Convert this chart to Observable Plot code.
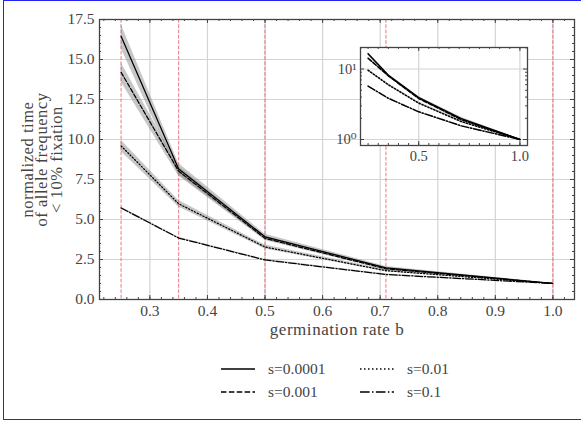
<!DOCTYPE html>
<html><head><meta charset="utf-8">
<script src="https://cdn.jsdelivr.net/npm/d3@7"></script>
<script src="https://cdn.jsdelivr.net/npm/@observablehq/plot@0.6"></script>
<style>
body{margin:0;background:#fff;overflow:hidden;}
#wrap{position:relative;width:581px;height:421px;overflow:hidden;font-family:"Liberation Serif",serif;color:#444;}
#border{position:absolute;left:3px;top:0px;width:640px;height:418px;border:1.5px solid #2424f0;box-sizing:content-box;}
#main{position:absolute;left:0;top:0;}
#inset{position:absolute;left:315px;top:42px;}
.leg{position:absolute;height:20px;display:flex;align-items:center;font-size:15.5px;color:#444;white-space:nowrap;}
.leg svg{display:block;}
</style></head><body>
<div id="wrap"><div id="border"></div><div id="main"></div><div id="inset"></div><div id="legend"></div></div>
<script>
// ---- data ----
const germination = [0.25, 0.35, 0.5, 0.71, 1.0];
const seriesNames = ["s=0.0001", "s=0.001", "s=0.01", "s=0.1"];
const time_s0001 = [16.45, 8.15, 3.92, 1.98, 1.0];
const time_s001  = [14.2, 8.02, 3.82, 1.92, 1.0];
const time_s01   = [9.6, 5.98, 3.28, 1.80, 1.0];
const time_s1    = [5.72, 3.84, 2.47, 1.56, 1.0];
const err_s0001 = [0.75, 0.35, 0.16, 0.09, 0.02];
const err_s001  = [0.6, 0.3, 0.13, 0.08, 0.02];
const err_s01   = [0.35, 0.2, 0.12, 0.07, 0.02];
const err_s1    = [0.06, 0.05, 0.04, 0.03, 0.01];
const markerLines = [0.25, 0.35, 0.5, 0.71, 1.0];
const xTicks = [0.3, 0.4, 0.5, 0.6, 0.7, 0.8, 0.9, 1.0];
const yTicks = [0, 2.5, 5, 7.5, 10, 12.5, 15, 17.5];
const insetXTicks = [0.5, 1.0];
const insetYTicks = [1, 10];
const insetYTickLabels = ["10\u2070", "10\u00B9"];
const xLabel = "germination rate b";
const yLabelLines = ["normalized time", "of allele frequency", "< 10% fixation"];

const values = [time_s0001, time_s001, time_s01, time_s1];
const errs = [err_s0001, err_s001, err_s01, err_s1];
const dashes = [null, "4.4,1.9", "1.2,2", "7.7,1.9,1.2,1.9"];
const rows = seriesNames.flatMap((name, k) => germination.map((b, i) => ({
  name, b, v: values[k][i], lo: values[k][i] - errs[k][i], hi: values[k][i] + errs[k][i]
})));

const xDomain = [0.2125, 1.0375];
const xMinor = d3.range(0.22, 1.03, 0.02).map(d => +d.toFixed(2));
const yMinor = d3.range(0, 17.51, 0.5);
const tickCol = "#444";
const gridCol = "#d4d4d4";

function frameTicks(xMaj, xMin, yMaj, yMin, iw, ih, maj, min) {
  const o = {stroke: tickCol, strokeWidth: 1};
  return [
    Plot.tickX(xMaj, {x: d => d, insetTop: ih - maj, ...o}),
    Plot.tickX(xMaj, {x: d => d, insetBottom: ih - maj, ...o}),
    Plot.tickX(xMin, {x: d => d, insetTop: ih - min, ...o}),
    Plot.tickX(xMin, {x: d => d, insetBottom: ih - min, ...o}),
    Plot.tickY(yMaj, {y: d => d, insetRight: iw - maj, ...o}),
    Plot.tickY(yMaj, {y: d => d, insetLeft: iw - maj, ...o}),
    Plot.tickY(yMin, {y: d => d, insetRight: iw - min, ...o}),
    Plot.tickY(yMin, {y: d => d, insetLeft: iw - min, ...o})
  ];
}

// ---- main plot ----
const W = 581, H = 345, mL = 99, mR = 7, mT = 19, mB = 46;
const iw = W - mL - mR, ih = H - mT - mB;
const yLabelDx = [-67, -52.5, -38];
const main = Plot.plot({
  width: W, height: H, marginLeft: mL, marginRight: mR, marginTop: mT, marginBottom: mB,
  style: {fontFamily: "Liberation Serif, serif", fontSize: "15.5px", color: "#444", background: "transparent", overflow: "visible"},
  x: {domain: xDomain, ticks: xTicks, tickFormat: d3.format(".1f"), tickSize: 0, tickPadding: 5, label: null},
  y: {domain: [0, 17.5], ticks: yTicks, tickFormat: d3.format(".1f"), tickSize: 0, tickPadding: 5, label: null},
  marks: [
    Plot.gridX(xTicks, {stroke: gridCol, strokeOpacity: 1, strokeWidth: 1.2}),
    Plot.gridY(yTicks, {stroke: gridCol, strokeOpacity: 1, strokeWidth: 1.2}),
    Plot.ruleX(markerLines, {stroke: "#e8303a", strokeOpacity: 0.65, strokeWidth: 1, strokeDasharray: "3.7,1.6"}),
    Plot.areaY(rows, {x: "b", y1: "lo", y2: "hi", z: "name", fill: "#7a7a7a", fillOpacity: 0.42}),
    ...seriesNames.map((name, k) => Plot.line(rows.filter(r => r.name === name),
      {x: "b", y: "v", stroke: "black", strokeWidth: 1.25, strokeDasharray: dashes[k]})),
    ...frameTicks(xTicks, xMinor, yTicks, yMinor, iw, ih, 4, 2),
    Plot.frame({stroke: "#444", strokeWidth: 1.3}),
    Plot.text([xLabel], {frameAnchor: "bottom", lineAnchor: "bottom", dy: 35.5, fontSize: 17, fill: "#444", textAnchor: "middle"}),
    ...yLabelLines.map((t, i) => Plot.text([t], {frameAnchor: "left", rotate: -90, dx: yLabelDx[i], textAnchor: "middle", lineAnchor: "bottom", fontSize: 16.5, fill: "#444"}))
  ]
});
main.querySelectorAll('g[aria-label="text"] text').forEach(t => t.style.letterSpacing = "0.55px");
document.getElementById("main").appendChild(main);

// ---- inset ----
const iL = 45, iR = 10, iT = 5, iB = 26, iW = 167, iH = 98;
const inset = Plot.plot({
  width: iL + iW + iR, height: iT + iH + iB, marginLeft: iL, marginRight: iR, marginTop: iT, marginBottom: iB,
  style: {fontFamily: "Liberation Serif, DejaVu Serif, serif", fontSize: "14.5px", color: "#444", background: "transparent", overflow: "visible"},
  x: {domain: xDomain, ticks: insetXTicks, tickFormat: d3.format(".1f"), tickSize: 0, tickPadding: 5, label: null},
  y: {type: "log", domain: [0.822, 20.2], ticks: insetYTicks, tickFormat: d => insetYTickLabels[insetYTicks.indexOf(d)], tickSize: 0, tickPadding: 4, label: null},
  marks: [
    Plot.frame({fill: "white", stroke: null}),
    Plot.gridX(insetXTicks, {stroke: gridCol, strokeOpacity: 1, strokeWidth: 1.2}),
    Plot.gridY(insetYTicks, {stroke: gridCol, strokeOpacity: 1, strokeWidth: 1.2}),
    Plot.areaY(rows, {x: "b", y1: "lo", y2: "hi", z: "name", fill: "#7a7a7a", fillOpacity: 0.42}),
    ...seriesNames.map((name, k) => Plot.line(rows.filter(r => r.name === name),
      {x: "b", y: "v", stroke: "black", strokeWidth: 1.5, strokeDasharray: dashes[k]})),
    ...frameTicks(insetXTicks, d3.range(0.25, 1.01, 0.05).map(d => +d.toFixed(2)), insetYTicks, [2,3,4,5,6,7,8,9,20], iW, iH, 4, 2),
    Plot.frame({stroke: "#444", strokeWidth: 1.3})
  ]
});
document.getElementById("inset").appendChild(inset);

// ---- legend ----
const legPos = [[221, 369], [221, 392], [360, 369], [360, 392]];
const legend = document.getElementById("legend");
seriesNames.forEach((name, k) => {
  const [x, y] = legPos[k];
  const div = document.createElement("div");
  div.className = "leg";
  div.style.left = x + "px";
  div.style.top = (y - 10) + "px";
  const svg = d3.create("svg").attr("width", 34).attr("height", 4);
  svg.append("line").attr("x1", 0).attr("x2", 34).attr("y1", 2).attr("y2", 2)
    .attr("stroke", "black").attr("stroke-width", 1.5)
    .attr("stroke-dasharray", dashes[k] ? dashes[k].split(",").map(v => v * 1.25).join(",") : null);
  div.appendChild(svg.node());
  const span = document.createElement("span");
  span.textContent = name;
  span.style.marginLeft = "13px";
  div.appendChild(span);
  legend.appendChild(div);
});
</script></body></html>
